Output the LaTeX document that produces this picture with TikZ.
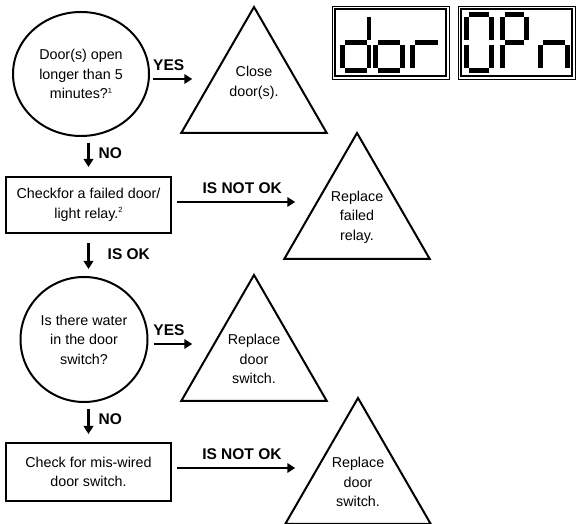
\documentclass[tikz,border=0pt]{standalone}
\usepackage{fontspec}
\setmainfont{Liberation Sans}
\usetikzlibrary{shapes,arrows.meta,calc}

\newcommand{\fnmark}[1]{\raisebox{5.5pt}{\fontsize{7.5}{7.5}\selectfont #1}}

\begin{document}
\begin{tikzpicture}[
    x=1pt, y=1pt,
    font=\fontsize{14.3}{19.5}\selectfont,
    question/.style={ellipse, draw, line width=2pt, align=center, inner sep=0pt},
    check/.style={rectangle, draw, line width=2pt, align=center, minimum width=165pt, inner sep=0pt},
    fix/.style={regular polygon, regular polygon sides=3, draw, line width=2pt, align=center, minimum size=168pt, inner sep=0pt},
    arrow/.style={line width=2.4pt, -{Triangle[length=8pt,width=9.5pt]}},
    answer/.style={font=\fontsize{15.5}{18}\selectfont\bfseries, inner sep=1pt},
    lcdframe/.style={draw, line width=0.7pt, minimum width=117pt, minimum height=73pt, inner sep=0pt, outer sep=0pt},
    lcdseg/.style={line width=4.8pt}
]
\useasboundingbox (0,0) rectangle (576,524);

\node [question, minimum width=136pt, minimum height=124pt] (doorq) at (81,450) {Door(s) open\\longer than 5\\minutes?\fnmark{1}};
\node [fix] (close) at (254,433) {};
\node [align=center] (closetext) at ([yshift=8pt]close.center) {Close\\door(s).};
\node [check, minimum height=56pt] (relaychk) at (88.5,319) {Checkfor a failed door/\\light relay.\fnmark{2}};
\node [fix] (relayfix) at (357,307) {Replace\\failed\\relay.};
\node [question, minimum width=127pt, minimum height=125pt] (waterq) at (84,184.5) {Is there water\\in the door\\switch?};
\node [fix] (switchfix) at (254,165) {Replace\\door\\switch.};
\node [check, minimum height=58pt] (wiringchk) at (88.5,52) {Check for mis-wired\\door switch.};
\node [fix] (wiringfix) at (358,42) {Replace\\door\\switch.};

\draw [arrow, shorten <=3pt, shorten >=24.5pt] ([yshift=-5pt]doorq.east) -- ([yshift=-5pt]doorq.east -| close.side 1)
    node [answer, above=6pt, pos=0.28] (yes1) {YES};
\draw [arrow, shorten <=6pt, shorten >=9pt] (doorq.south -| relaychk.north) -- (relaychk.north)
    node [answer, right=8pt, pos=0.41] (no1) {NO};
\draw [arrow, shorten <=5pt, shorten >=24.5pt] ([yshift=3pt]relaychk.east) -- ([yshift=3pt]relaychk.east -| relayfix.side 1)
    node [answer, above=6pt, pos=0.475] (notok1) {IS NOT OK};
\draw [arrow, shorten <=9pt, shorten >=7pt] (relaychk.south) -- (relaychk.south |- waterq.north)
    node [answer, right=17pt, pos=0.48] (isok) {IS OK};
\draw [arrow, shorten <=5pt, shorten >=24.5pt] ([yshift=-4.5pt]waterq.east) -- ([yshift=-4.5pt]waterq.east -| switchfix.side 1)
    node [answer, above=6pt, pos=0.3] (yes2) {YES};
\draw [arrow, shorten <=6pt, shorten >=8pt] (waterq.south -| wiringchk.north) -- (wiringchk.north)
    node [answer, right=8pt, pos=0.41] (no2) {NO};
\draw [arrow, shorten <=5pt, shorten >=25.5pt] ([yshift=4pt]wiringchk.east) -- ([yshift=4pt]wiringchk.east -| wiringfix.side 1)
    node [answer, above=6pt, pos=0.47] (notok2) {IS NOT OK};

\node [lcdframe] (lcdleft) at (390.5,481.5) {};
\node [lcdframe] (lcdright) at (516.5,481.5) {};
\draw [line width=1.6pt] ([shift={(3pt,-3pt)}]lcdleft.north west) rectangle ([shift={(-3pt,3pt)}]lcdleft.south east);
\draw [line width=1.6pt] ([shift={(3pt,-3pt)}]lcdright.north west) rectangle ([shift={(-3pt,3pt)}]lcdright.south east);

\foreach \xa/\ya/\xb/\yb in {
    369/507/369/484, 369/479/369/456, 345/453.5/366.5/453.5, 342.5/479/342.5/456, 345/481.5/366.5/481.5,
    402.5/479/402.5/456, 378/453.5/400/453.5, 375.5/479/375.5/456, 378/481.5/400/481.5,
    412.5/479/412.5/456, 415/481.5/438/481.5,
    469/509.5/489/509.5, 491.5/507/491.5/484, 491.5/479/491.5/456, 469/453.5/489/453.5, 466.5/479/466.5/456, 466.5/507/466.5/484,
    505/509.5/524/509.5, 526.5/507/526.5/484, 502.5/479/502.5/456, 502.5/507/502.5/484, 505/481.5/524/481.5,
    567.5/479/567.5/456, 540.5/479/540.5/456, 543/481.5/565/481.5}
    \draw [lcdseg] (\xa,\ya) -- (\xb,\yb);

\end{tikzpicture}
\end{document}
